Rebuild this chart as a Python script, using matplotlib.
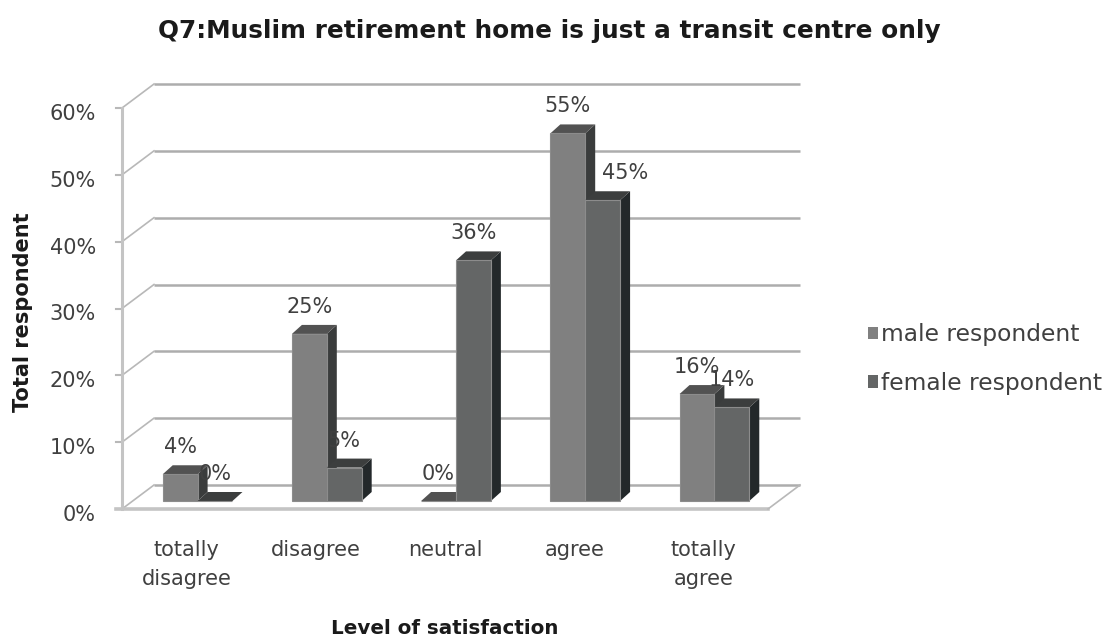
import matplotlib
matplotlib.use("Agg")
import matplotlib.pyplot as plt
from matplotlib.patches import Polygon, Rectangle, Patch

# Q7 answers, share of respondents per level
categories = ["totally\ndisagree", "disagree", "neutral", "agree", "totally\nagree"]
male = [0.04, 0.25, 0.00, 0.55, 0.16]
female = [0.00, 0.05, 0.36, 0.45, 0.14]
series_names = ["male respondent", "female respondent"]
yticks = [0.0, 0.1, 0.2, 0.3, 0.4, 0.5, 0.6]

plt.rcParams['font.family'] = ['DejaVu Sans']

FIG_W, FIG_H = 1117, 641
fig = plt.figure(figsize=(FIG_W / 100, FIG_H / 100), dpi=100)

# front plane of the fake 3d box, in pixels
left, right, bottom, top = 122, 768, 509, 108
ax = fig.add_axes([left / FIG_W, 1 - bottom / FIG_H,
                   (right - left) / FIG_W, (bottom - top) / FIG_H])
x0, x1 = -0.5, len(categories) - 0.5
ax.set_xlim(x0, x1)
ax.set_ylim(0, 0.6)
ax.axis('off')

# data units per pixel
sx = (x1 - x0) / (right - left)
sy = 0.6 / (bottom - top)

def shift(x, y, px, py):
    return x + px * sx, y + py * sy

WX, WY = 32, 24     # depth of the back wall
BX, BY = 11, 8      # bars sit a third of the way in
DX, DY = 10, 9      # thickness of each bar

text_col = '#404040'

# back wall gridlines, side wall diagonals, y tick labels
for v in yticks:
    bx0, by = shift(x0, v, WX, WY)
    bx1, _ = shift(x1, v, WX, WY)
    ax.plot([bx0, bx1], [by, by], color='#adadad', lw=1.8, solid_capstyle='butt',
            clip_on=False, zorder=1)
    ax.plot([x0, bx0], [v, by], color='#b8b8b8', lw=1.2, clip_on=False, zorder=1)
    ax.plot([x0 - 6 * sx, x0], [v, v], color='#b8b8b8', lw=1.5, clip_on=False, zorder=1)
    ax.text(x0 - 26 * sx, v - 6 * sy, f"{int(round(v * 100))}%", ha='right', va='center',
            fontsize=15, color=text_col)

# front axis and floor
ax.plot([x0, x0], [0, 0.6], color='#c4c4c4', lw=2.2, clip_on=False, zorder=2)
ax.plot([x0 - 6 * sx, x1], [0, 0], color='#c4c4c4', lw=2.6, clip_on=False, zorder=2)
fx, fy = shift(x1, 0, WX, WY)
ax.plot([x1, fx], [0, fy], color='#b8b8b8', lw=1.2, clip_on=False, zorder=2)

front_col = ['#808080', '#646666']
top_col = ['#525252', '#3c3e3e']
side_col = ['#3a3c3c', '#23282a']

w = 0.27
label_nudge = {(3, 1): 22}

for i in range(len(categories)):
    for j, vals in enumerate((male, female)):
        h = vals[i]
        xl, yb = shift(i - w + j * w, 0, BX, BY)
        xr = xl + w
        yt = yb + h
        z = 3 + i * 2 + j
        side = Polygon([(xr, yb), (xr, yt), shift(xr, yt, DX, DY), shift(xr, yb, DX, DY)],
                       closed=True, fc=side_col[j], ec='none', zorder=z, clip_on=False)
        roof = Polygon([(xl, yt), (xr, yt), shift(xr, yt, DX, DY), shift(xl, yt, DX, DY)],
                       closed=True, fc=top_col[j], ec='none', zorder=z, clip_on=False)
        front = Rectangle((xl, yb), w, h, fc=front_col[j], ec='#8c8c8c', lw=0.8,
                          zorder=z, clip_on=False)
        ax.add_patch(side)
        ax.add_patch(roof)
        ax.add_patch(front)
        ax.annotate(f"{int(round(h * 100))}%", xy=(xl + w / 2, yt),
                    xytext=(label_nudge.get((i, j), 0), 27), textcoords='offset pixels',
                    ha='center', va='center', fontsize=15, color=text_col, zorder=20)

# category labels under the floor
for i, name in enumerate(categories):
    ax.text(i, -31 * sy, name, ha='center', va='top', fontsize=15, color=text_col,
            linespacing=1.55)

fig.text(445 / FIG_W, 1 - 628 / FIG_H, "Level of satisfaction", ha='center', va='center',
         fontsize=14.3, fontweight='bold', color='#1a1a1a')
fig.text(23 / FIG_W, 1 - 312 / FIG_H, "Total respondent", ha='center', va='center',
         rotation=90, fontsize=15, fontweight='bold', color='#1a1a1a')
fig.text(549 / FIG_W, 1 - 31 / FIG_H, "Q7:Muslim retirement home is just a transit centre only",
         ha='center', va='center', fontsize=17.8, fontweight='bold', color='#1a1a1a')

handles = [Patch(fc=front_col[k], ec='none') for k in range(2)]
fig.legend(handles, series_names, loc='center left',
           bbox_to_anchor=(847 / FIG_W, 1 - 359 / FIG_H), frameon=False,
           handlelength=0.42, handleheight=0.42, handletextpad=0.15, labelspacing=1.1,
           fontsize=16.8, labelcolor=text_col)

fig.savefig("out.png", dpi=100)
